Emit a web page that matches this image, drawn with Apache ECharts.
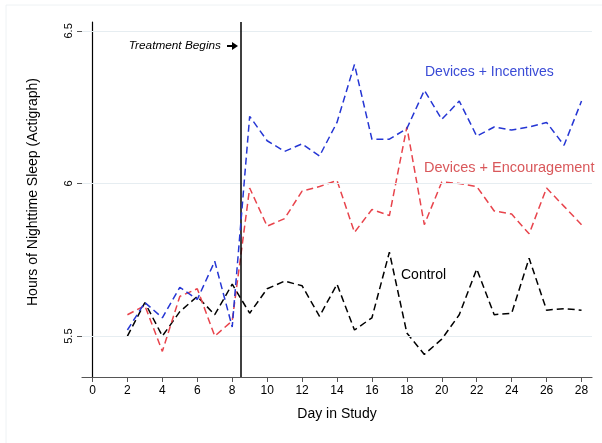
<!DOCTYPE html>
<html>
<head>
<meta charset="utf-8">
<script src="https://cdn.jsdelivr.net/npm/echarts@6/dist/echarts.min.js"></script>
<style>
  html, body { margin: 0; padding: 0; background: #fff; }
  #chart { width: 602px; height: 443px; }
</style>
</head>
<body>
<div id="chart"></div>
<script>
// days 2..28
var days = [2,3,4,5,6,7,8,9,10,11,12,13,14,15,16,17,18,19,20,21,22,23,24,25,26,27,28];
var incentives = [5.52,5.61,5.56,5.66,5.62,5.745,5.53,6.22,6.14,6.105,6.13,6.09,6.2,6.39,6.145,6.145,6.18,6.305,6.21,6.27,6.155,6.185,6.175,6.185,6.2,6.125,6.27];
var encouragement = [5.57,5.60,5.45,5.63,5.655,5.50,5.55,5.985,5.86,5.885,5.975,5.99,6.01,5.84,5.915,5.895,6.185,5.865,6.005,6.0,5.99,5.91,5.9,5.835,5.985,5.925,5.865];
var control = [5.50,5.61,5.50,5.58,5.63,5.57,5.67,5.575,5.655,5.68,5.665,5.565,5.67,5.52,5.56,5.775,5.51,5.44,5.49,5.57,5.72,5.57,5.575,5.755,5.585,5.59,5.585];
var xTicks = [0,2,4,6,8,10,12,14,16,18,20,22,24,26,28];
var yTicks = [5.5, 6, 6.5];
var treatmentDay = 8.5;

function pairs(vals) {
  return days.map(function (d, i) { return [d, vals[i]]; });
}

var chart = echarts.init(document.getElementById('chart'));
var font = 'Liberation Sans, Arial, Helvetica, sans-serif';
var dash = [7, 4];

var texts = [
  { type: 'line', shape: { x1: 6, y1: 5, x2: 602, y2: 5 }, style: { stroke: '#eef2f4', lineWidth: 1 } },
  { type: 'line', shape: { x1: 6, y1: 5, x2: 6, y2: 443 }, style: { stroke: '#eef2f4', lineWidth: 1 } },
  {
    type: 'text', x: 33, y: 192, rotation: Math.PI / 2,
    style: { text: 'Hours of Nighttime Sleep (Actigraph)', fontFamily: font, fontSize: 14, fill: '#000', textAlign: 'center', textVerticalAlign: 'middle' }
  },
  {
    type: 'text', x: 221, y: 46,
    style: { text: 'Treatment Begins', fontFamily: font, fontSize: 11.8, fontStyle: 'italic', fill: '#000', textAlign: 'right', textVerticalAlign: 'middle' }
  },
  { type: 'line', shape: { x1: 227, y1: 46, x2: 233, y2: 46 }, style: { stroke: '#000', lineWidth: 2 } },
  { type: 'polygon', shape: { points: [[232, 42], [238, 46], [232, 50]] }, style: { fill: '#000' } },
  {
    type: 'text', x: 425, y: 72,
    style: { text: 'Devices + Incentives', fontFamily: font, fontSize: 14, fill: '#3a4bd6', textVerticalAlign: 'middle' }
  },
  {
    type: 'text', x: 424, y: 168,
    style: { text: 'Devices + Encouragement', fontFamily: font, fontSize: 14.5, fill: '#d9585b', textVerticalAlign: 'middle' }
  },
  {
    type: 'text', x: 401, y: 275,
    style: { text: 'Control', fontFamily: font, fontSize: 14, fill: '#000', textVerticalAlign: 'middle' }
  }
];

var option = {
  animation: false,
  grid: { left: 82, right: 10, top: 22, bottom: 66 },
  xAxis: {
    type: 'value',
    min: -0.6,
    max: 28.6,
    name: 'Day in Study',
    nameLocation: 'middle',
    nameGap: 30,
    nameTextStyle: { fontFamily: font, fontSize: 14, color: '#000' },
    axisLine: { lineStyle: { color: '#555', width: 1.2 } },
    axisTick: { customValues: xTicks, length: 5, lineStyle: { color: '#555' } },
    axisLabel: { customValues: xTicks, fontFamily: font, fontSize: 12, color: '#000', margin: 8 },
    splitLine: { show: false }
  },
  yAxis: {
    type: 'value',
    min: 5.366,
    max: 6.529,
    axisLine: { show: true, lineStyle: { color: '#000', width: 1.2 } },
    axisTick: { show: true, customValues: yTicks, length: 5, lineStyle: { color: '#555' } },
    axisLabel: { customValues: yTicks, fontFamily: font, fontSize: 11, color: '#000', rotate: 90, margin: 8 },
    splitLine: { show: false }
  },
  graphic: texts,
  series: [
    {
      name: 'gridlines',
      type: 'line',
      data: [],
      markLine: {
        silent: true,
        symbol: ['none', 'none'],
        label: { show: false },
        lineStyle: { color: '#e6edf1', width: 1, type: 'solid' },
        data: yTicks.map(function (v) { return { yAxis: v }; })
      }
    },
    {
      name: 'Control',
      type: 'line',
      data: pairs(control),
      showSymbol: false,
      lineStyle: { color: '#000', width: 1.5, type: dash },
      z: 3
    },
    {
      name: 'Devices + Encouragement',
      type: 'line',
      data: pairs(encouragement),
      showSymbol: false,
      lineStyle: { color: '#e8444c', width: 1.5, type: dash },
      z: 4
    },
    {
      name: 'Devices + Incentives',
      type: 'line',
      data: pairs(incentives),
      showSymbol: false,
      lineStyle: { color: '#2536d4', width: 1.5, type: dash },
      z: 5,
      markLine: {
        silent: true,
        symbol: ['none', 'none'],
        label: { show: false },
        lineStyle: { color: '#000', width: 1.5, type: 'solid' },
        data: [{ xAxis: treatmentDay }]
      }
    }
  ]
};

chart.setOption(option);

// y-axis ticks drawn outside the grid, placed through the axis scale
var axisX = chart.convertToPixel({ xAxisIndex: 0 }, -0.6);
var yTickMarks = yTicks.map(function (v) {
  var py = Math.round(chart.convertToPixel({ yAxisIndex: 0 }, v)) + 0.5;
  return { type: 'line', shape: { x1: axisX - 5, y1: py, x2: axisX, y2: py }, style: { stroke: '#555', lineWidth: 1 } };
});
chart.setOption({ graphic: texts.concat(yTickMarks) });
</script>
</body>
</html>
